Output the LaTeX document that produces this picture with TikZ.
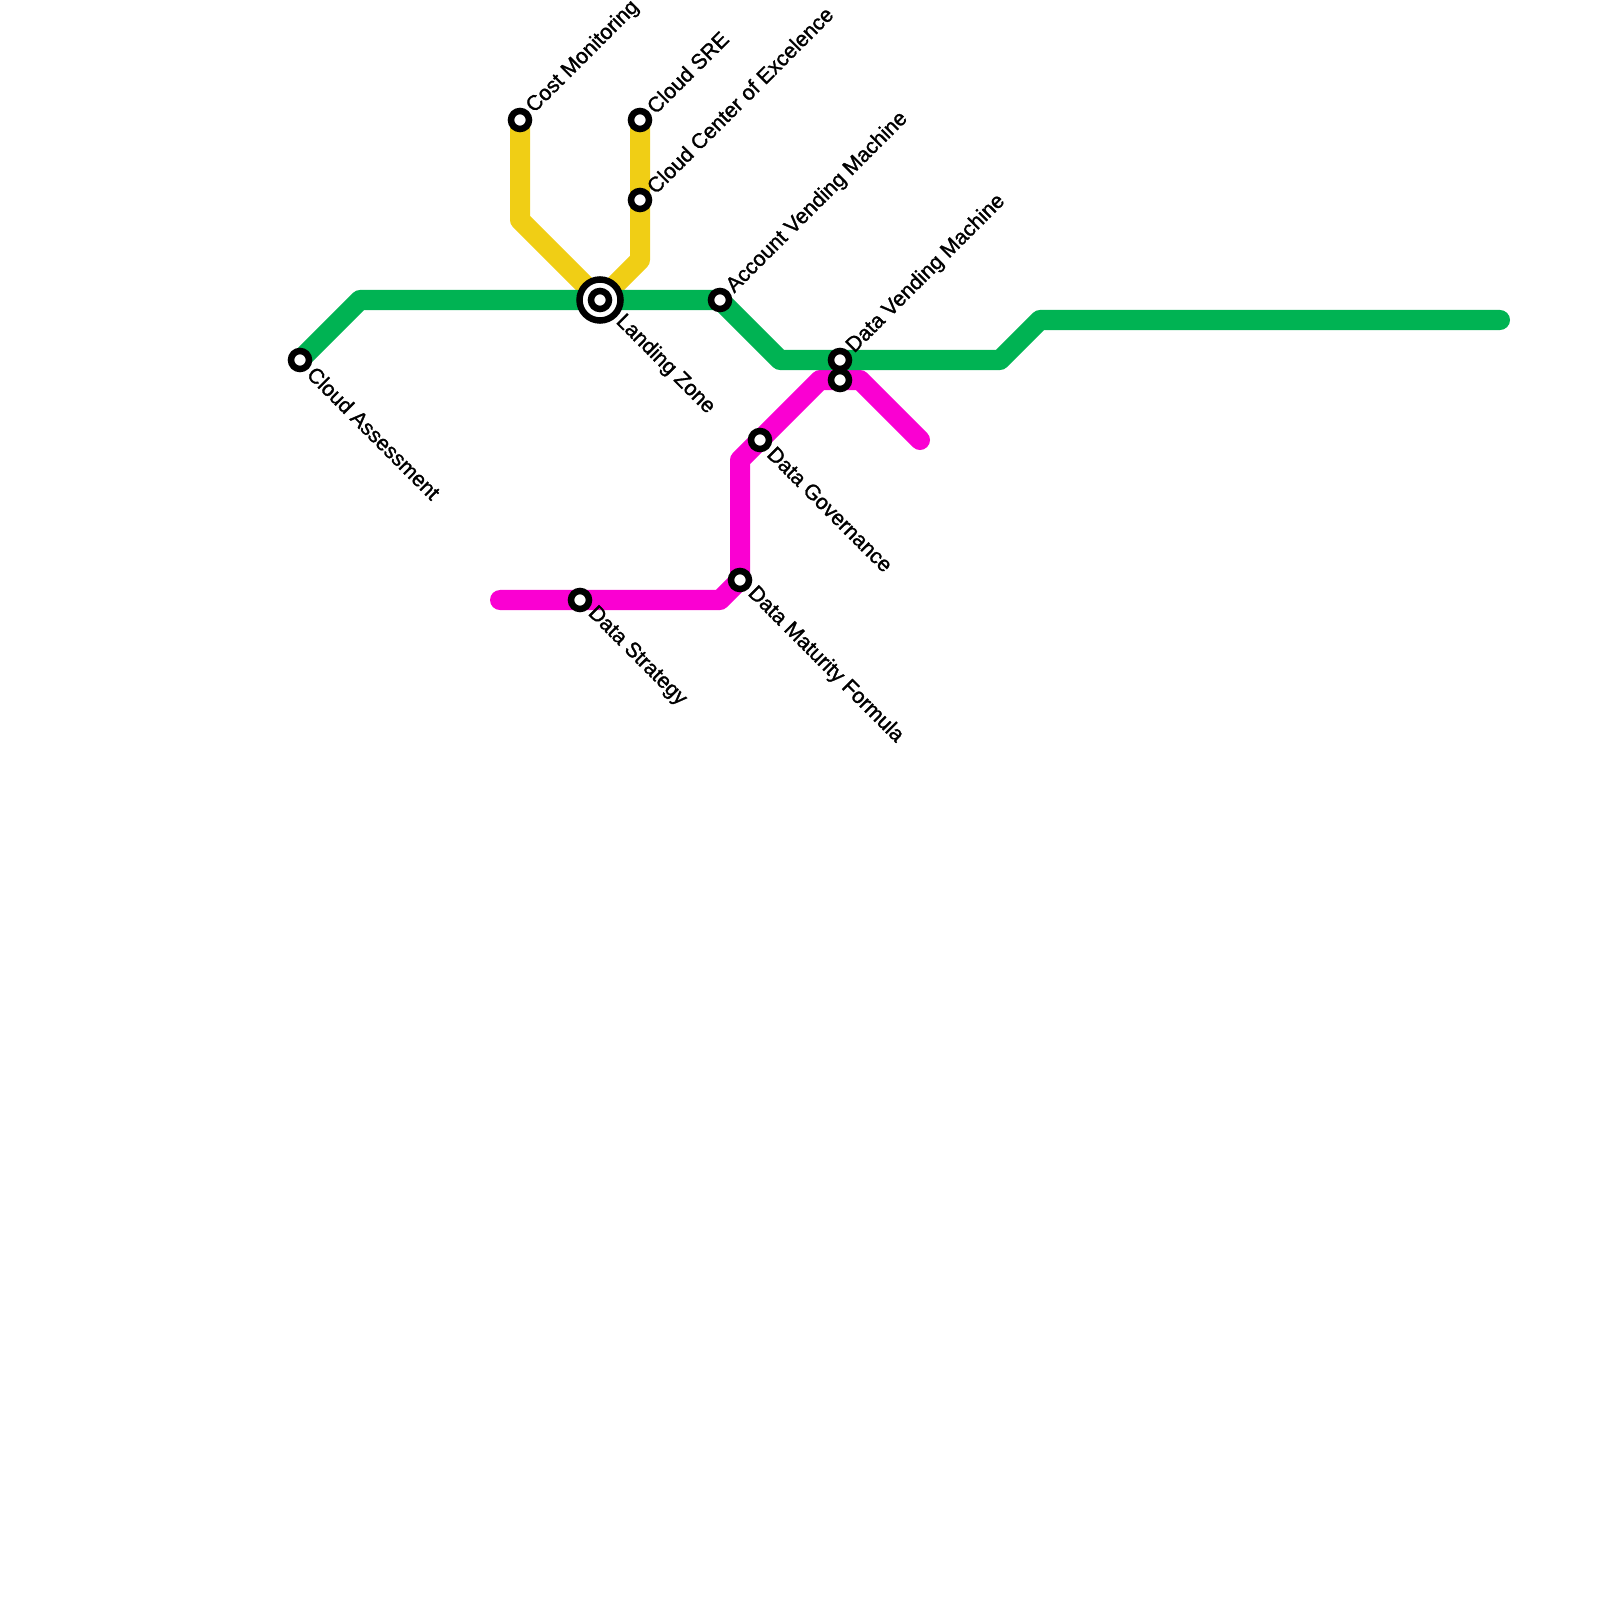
\documentclass[tikz,border=0pt]{standalone}
\usepackage{fontspec}
\setmainfont[FakeBold=1.3]{Liberation Sans}
\usetikzlibrary{backgrounds}
\definecolor{linegreen}{RGB}{0,179,83}
\definecolor{lineyellow}{RGB}{240,206,21}
\definecolor{linemagenta}{RGB}{250,0,210}
\tikzset{
  metro/.style={line width=0.2cm,line cap=round,line join=round},
  station/.style={draw=black,fill=white,circle,line width=0.065cm,inner sep=0pt,outer sep=0pt,minimum size=0.18cm},
  hub/.style={station,minimum size=0.41cm},
  upname/.style={anchor=west,rotate=45,inner sep=0pt,xshift=0.05cm,yshift=0cm,font=\fontsize{6.05}{7.5}\selectfont},
  downname/.style={anchor=west,rotate=-45,inner sep=0pt,xshift=0.055cm,yshift=0.005cm,font=\fontsize{6.05}{7.5}\selectfont}
}
\begin{document}
\begin{tikzpicture}[x=0.01cm,y=-0.01cm]
  \useasboundingbox (0,0) rectangle (1600,1600);
  % stations
  \node[station] (assess) at (300,360) {};
  \node[station] (cost) at (520,120) {};
  \node[station] (sre) at (640,120) {};
  \node[station] (ccoe) at (640,200) {};
  \node[hub] (zonering) at (600,300) {};
  \node[station] (zone) at (600,300) {};
  \node[station] (vendacct) at (720,300) {};
  \node[station] (venddata) at (840,360) {};
  \node[station] (maturity) at (740,580) {};
  \node[station] (strategy) at (580,600) {};
  \node[station] (govern) at (760,440) {};
  \node[station] (mesh) at (840,380) {};
  % free ends
  \coordinate (greenend) at (1500,320);
  \coordinate (magstart) at (500,600);
  \coordinate (magend) at (920,440);
  % lines
  \begin{scope}[on background layer]
    \draw[metro,lineyellow] (cost.center) -- (520,220) -- (zone.center) -- (640,260) -- (ccoe.center) -- (sre.center);
    \draw[metro,linemagenta] (magstart) -- (strategy.center) -- (720,600) -- (maturity.center) -- (740,460) -- (govern.center) -- (820,380) -- (mesh.center) -- (860,380) -- (magend);
    \draw[metro,linegreen] (assess.center) -- (360,300) -- (zone.center) -- (vendacct.center) -- (780,360) -- (venddata.center) -- (1000,360) -- (1040,320) -- (greenend);
  \end{scope}
  % names
  \node[downname] (assessname) at (assess.south east) {Cloud Assessment};
  \node[upname] (costname) at (cost.north east) {Cost Monitoring};
  \node[upname] (srename) at (sre.north east) {Cloud SRE};
  \node[upname] (ccoename) at (ccoe.north east) {Cloud Center of Excelence};
  \node[downname] (zonename) at (zonering.south east) {Landing Zone};
  \node[upname] (vendacctname) at (vendacct.north east) {Account Vending Machine};
  \node[upname] (venddataname) at (venddata.north east) {Data Vending Machine};
  \node[downname] (governname) at (govern.south east) {Data Governance};
  \node[downname] (maturityname) at (maturity.south east) {Data Maturity Formula};
  \node[downname] (strategyname) at (strategy.south east) {Data Strategy};
\end{tikzpicture}
\end{document}
